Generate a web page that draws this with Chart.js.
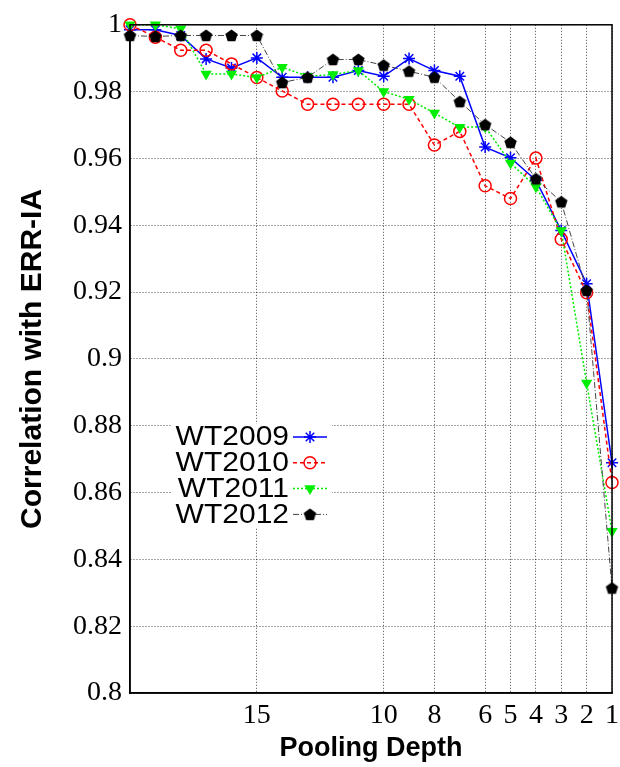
<!DOCTYPE html>
<html>
<head>
<meta charset="utf-8">
<script src="https://cdn.jsdelivr.net/npm/chart.js@4"></script>
<style>
  body { margin: 0; background: #fff; }
</style>
</head>
<body>
<canvas id="myChart" width="620" height="767"></canvas>
<script>
// Pooling depths (x values), plotted from 20 down to 1
let depths = [20, 19, 18, 17, 16, 15, 14, 13, 12, 11, 10, 9, 8, 7, 6, 5, 4, 3, 2, 1];

// Correlation with ERR-IA for each year
let wt2009 = [0.9985, 0.9985, 0.9968, 0.9898, 0.9871, 0.9901, 0.9843, 0.9843, 0.9843, 0.9863,
              0.9846, 0.9899, 0.9863, 0.9846, 0.9634, 0.9602, 0.9535, 0.9384, 0.9225, 0.8689];
let wt2010 = [1.0000, 0.9963, 0.9924, 0.9924, 0.9883, 0.9842, 0.9802, 0.9762, 0.9762, 0.9762,
              0.9762, 0.9762, 0.9640, 0.9681, 0.9518, 0.9480, 0.9601, 0.9358, 0.9198, 0.8630];
let wt2011 = [1.0000, 1.0000, 0.9988, 0.9853, 0.9853, 0.9842, 0.9873, 0.9846, 0.9851, 0.9863,
              0.9800, 0.9777, 0.9736, 0.9693, 0.9695, 0.9586, 0.9515, 0.9384, 0.8928, 0.8484];
let wt2012 = [0.9968, 0.9965, 0.9968, 0.9968, 0.9968, 0.9968, 0.9827, 0.9843, 0.9896, 0.9896,
              0.9879, 0.9861, 0.9843, 0.9770, 0.9701, 0.9648, 0.9539, 0.9470, 0.9205, 0.8314];

// Tick positions
let xTicks = [15, 10, 8, 6, 5, 4, 3, 2, 1];
let yMin = 0.8, yMax = 1.0, yStep = 0.02;

// pair every value with its depth
function toPoints(values) {
    return values.map((v, i) => ({ x: depths[i], y: v }));
}

// small filled pentagon used as the WT2012 marker
function makePentagon(r, color) {
    const c = document.createElement('canvas');
    const s = Math.ceil(r * 2 + 2);
    c.width = s;
    c.height = s;
    const g = c.getContext('2d');
    g.fillStyle = color;
    g.beginPath();
    for (let i = 0; i < 5; i++) {
        const a = -Math.PI / 2 + i * 2 * Math.PI / 5;
        g.lineTo(s / 2 + r * Math.cos(a), s / 2 + r * Math.sin(a) + 0.5);
    }
    g.closePath();
    g.fill();
    return c;
}
const pentagon = makePentagon(6.5, '#000');

// box around the plot area
const framePlugin = {
    id: 'frame',
    afterDatasetsDraw(chart) {
        const { ctx, chartArea: a } = chart;
        ctx.save();
        ctx.strokeStyle = '#000';
        ctx.lineWidth = 1.5;
        ctx.strokeRect(a.left, a.top, a.right - a.left, a.bottom - a.top);
        ctx.restore();
    }
};

// legend inside the plot: text on the left, line sample on the right
const legendPlugin = {
    id: 'insideLegend',
    afterDraw(chart) {
        const ctx = chart.ctx;
        ctx.save();
        ctx.font = '30px "Liberation Sans", Arial, sans-serif';
        ctx.textAlign = 'right';
        ctx.textBaseline = 'middle';
        chart.data.datasets.forEach((ds, i) => {
            const y = 437 + i * 25.8;
            ctx.fillStyle = '#fff';
            ctx.fillRect(172, y - 13, 160, 26);

            // text slightly squashed vertically, like the original
            ctx.save();
            ctx.translate(289, y + 1);
            ctx.scale(1, 0.9);
            ctx.fillStyle = '#000';
            ctx.fillText(ds.label, 0, 0);
            ctx.restore();

            ctx.save();
            ctx.strokeStyle = ds.borderColor;
            ctx.lineWidth = ds.borderWidth;
            ctx.setLineDash(ds.borderDash || []);
            ctx.beginPath();
            ctx.moveTo(293, y);
            ctx.lineTo(327, y);
            ctx.stroke();
            ctx.restore();

            ctx.save();
            ctx.fillStyle = ds.pointBackgroundColor;
            ctx.strokeStyle = ds.pointBorderColor;
            ctx.lineWidth = ds.pointBorderWidth;
            ctx.setLineDash([]);
            Chart.helpers.drawPoint(ctx, {
                pointStyle: ds.pointStyle,
                radius: ds.pointRadius,
                rotation: ds.pointRotation || 0,
                borderWidth: ds.pointBorderWidth
            }, 310, y);
            ctx.restore();
        });
        ctx.restore();
    }
};

const ctx = document.getElementById('myChart').getContext('2d');
let myChart = new Chart(ctx, {
    type: 'line',
    data: {
        datasets: [
            {
                label: 'WT2009',
                data: toPoints(wt2009),
                borderColor: '#0000ff',
                borderWidth: 1.5,
                pointStyle: 'star',
                pointRadius: 6,
                pointBorderWidth: 1.5,
                pointBorderColor: '#0000ff',
                pointBackgroundColor: '#0000ff',
                order: 4
            },
            {
                label: 'WT2010',
                data: toPoints(wt2010),
                borderColor: '#ff0000',
                borderWidth: 1.5,
                borderDash: [4, 3],
                pointStyle: 'circle',
                pointRadius: 6,
                pointBorderWidth: 1.5,
                pointBorderColor: '#ff0000',
                pointBackgroundColor: 'rgba(0,0,0,0)',
                order: 3
            },
            {
                label: 'WT2011',
                data: toPoints(wt2011),
                borderColor: '#00ee00',
                borderWidth: 1.5,
                borderDash: [2, 2],
                pointStyle: 'triangle',
                pointRotation: 180,
                pointRadius: 6.5,
                pointBorderWidth: 0,
                pointBorderColor: '#00ee00',
                pointBackgroundColor: '#00ee00',
                order: 2
            },
            {
                label: 'WT2012',
                data: toPoints(wt2012),
                borderColor: '#444',
                borderWidth: 1,
                borderDash: [6, 2, 1, 2],
                pointStyle: pentagon,
                pointRadius: 6,
                pointBorderWidth: 0,
                pointBorderColor: '#000',
                pointBackgroundColor: '#000',
                order: 1
            }
        ]
    },
    options: {
        responsive: false,
        animation: false,
        clip: false,
        layout: { padding: { top: 20, right: 8, left: 0, bottom: 0 } },
        plugins: {
            legend: { display: false },
            tooltip: { enabled: false }
        },
        elements: { line: { tension: 0 } },
        scales: {
            x: {
                type: 'linear',
                reverse: true,
                min: 1,
                max: 20,
                afterBuildTicks: (scale) => {
                    scale.ticks = xTicks.map(v => ({ value: v }));
                },
                afterFit: (scale) => {
                    scale.height = 74;
                    // the "1" label may hang over the right edge
                    scale.paddingLeft = 0;
                    scale.paddingRight = 0;
                },
                grid: { color: 'rgba(0,0,0,0.7)', drawTicks: false, lineWidth: 1 },
                border: { color: '#000', width: 1.5, dash: [1, 2] },
                ticks: {
                    color: '#000',
                    padding: 6,
                    maxRotation: 0,
                    autoSkip: false,
                    font: { family: '"Liberation Serif", "Times New Roman", serif', size: 28 }
                },
                title: {
                    display: true,
                    text: 'Pooling Depth',
                    color: '#000',
                    padding: { top: 0, bottom: 2 },
                    font: { family: '"Liberation Sans", Arial, sans-serif', size: 27, weight: 'bold' }
                }
            },
            y: {
                min: yMin,
                max: yMax,
                afterFit: (scale) => { scale.width = 130; },
                grid: { color: 'rgba(0,0,0,0.7)', drawTicks: false, lineWidth: 1 },
                border: { color: '#000', width: 1.5, dash: [1, 2] },
                ticks: {
                    stepSize: yStep,
                    color: '#000',
                    padding: 8,
                    font: { family: '"Liberation Serif", "Times New Roman", serif', size: 28 },
                    callback: (v) => String(+Number(v).toFixed(2))
                },
                title: {
                    display: true,
                    text: 'Correlation with ERR-IA',
                    color: '#000',
                    padding: { top: 15, bottom: 0 },
                    font: { family: '"Liberation Sans", Arial, sans-serif', size: 30, weight: 'bold' }
                }
            }
        }
    },
    plugins: [framePlugin, legendPlugin]
});
</script>
</body>
</html>
